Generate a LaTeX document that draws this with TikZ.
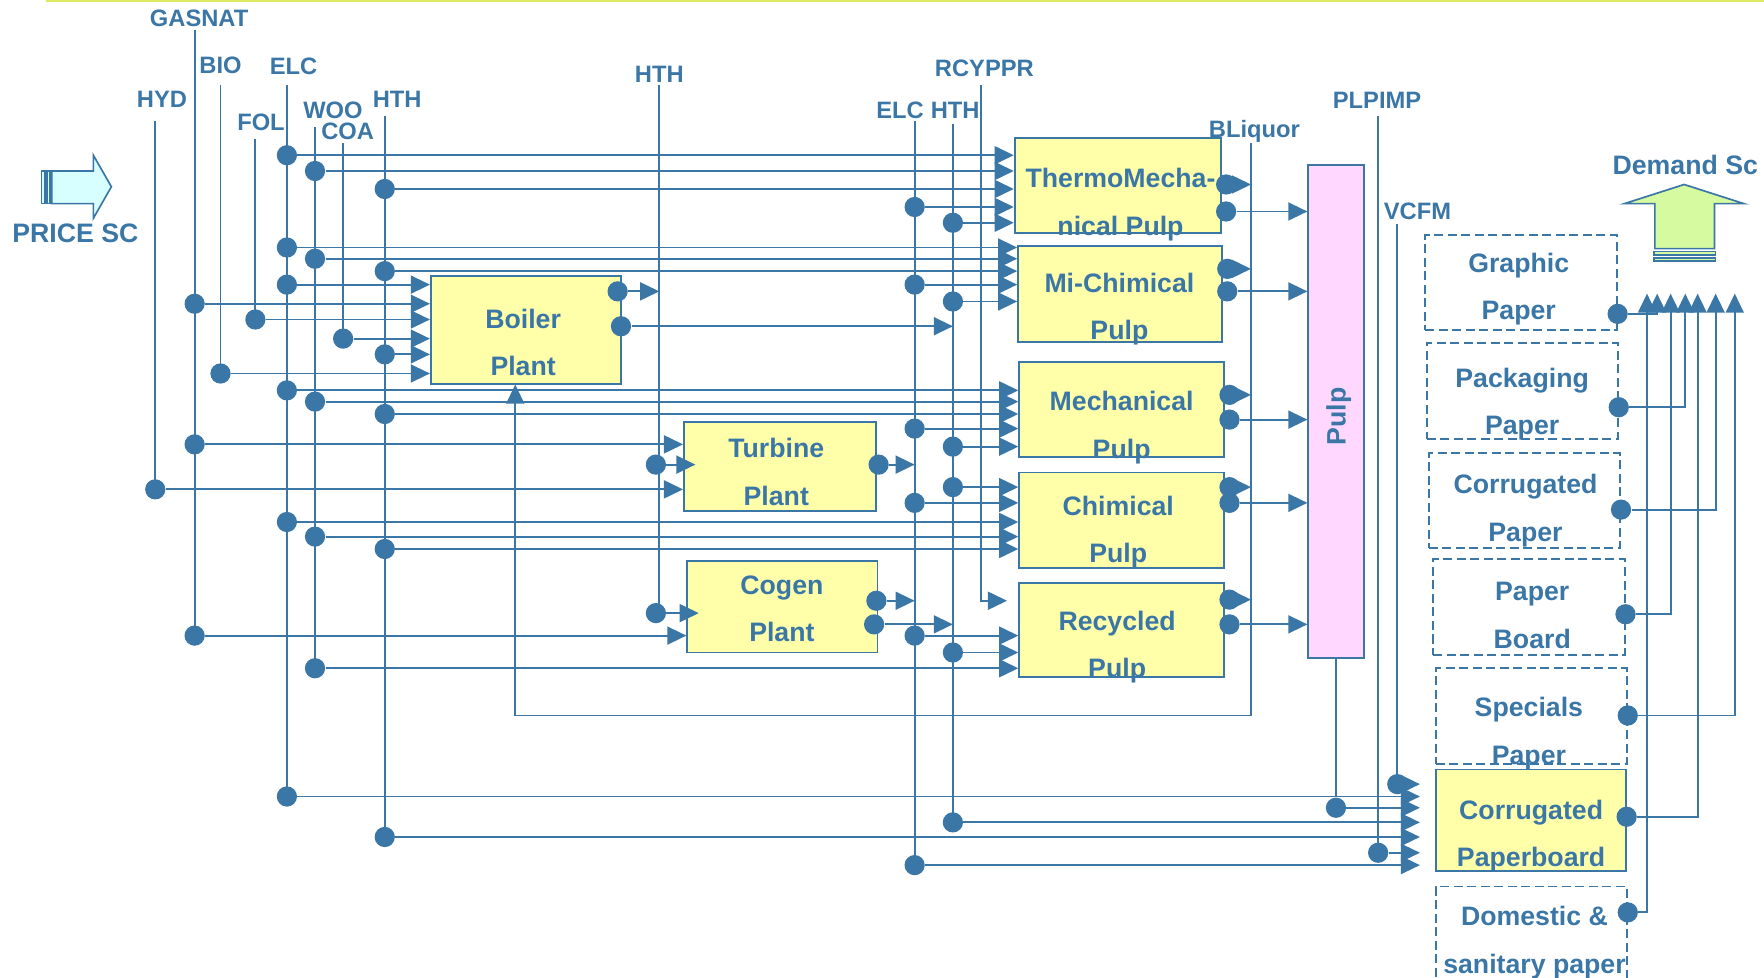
\documentclass[tikz,border=0pt]{standalone}
\usepackage{fontspec}
\setmainfont{Liberation Sans}
\usepackage{xcolor}
\usepackage{tikz}
\usetikzlibrary{arrows.meta}

\definecolor{linkblue}{RGB}{58,118,166}
\definecolor{plantyellow}{RGB}{255,255,170}
\definecolor{pulppink}{RGB}{255,215,255}
\definecolor{pricecyan}{RGB}{215,255,255}
\definecolor{demandgreen}{RGB}{214,250,160}
\definecolor{topline}{RGB}{222,232,96}

\tikzset{
    link/.style={draw=linkblue, line width=0.33mm},
    feed/.style={link, -{Triangle[length=3.4mm, width=3.2mm]}},
    tapdot/.style={circle, fill=linkblue, inner sep=0pt, minimum size=3.6mm},
    lbl/.style={text=linkblue, inner sep=0pt, font=\fontsize{12}{14}\selectfont\bfseries},
    bigl/.style={lbl, font=\fontsize{13.5}{16}\selectfont\bfseries},
    plant/.style={draw=linkblue, line width=0.35mm, fill=plantyellow, inner sep=0pt},
    market/.style={draw=linkblue, line width=0.35mm, inner sep=0pt, dash pattern=on 1.6mm off 0.8mm},
    boxtext/.style={text=linkblue, inner sep=0pt, anchor=north, align=center, font=\fontsize{13.5}{24}\selectfont\bfseries},
    fatarrow/.style={draw=linkblue, line width=0.3mm},
}

\begin{document}
\begin{tikzpicture}[x=0.2mm, y=-0.2mm]
    \useasboundingbox (0,0) rectangle (1568,869);
    \draw[topline, line width=0.7mm] (41,0) -- (1568,0);

    % scenario arrows
    \filldraw[fatarrow, fill=pricecyan] (46,152) -- (83,152) -- (83,138) -- (99,166) -- (83,194) -- (83,181) -- (46,181) -- cycle;
    \filldraw[fatarrow, fill=pricecyan] (37,152) rectangle (40,181);
    \filldraw[fatarrow, fill=pricecyan] (41.5,152) rectangle (44.5,181);
    \node[bigl] (priceL) at (67,207) {PRICE SC};

    \filldraw[fatarrow, fill=demandgreen] (1471,221) -- (1471,181) -- (1444,181) -- (1497,164) -- (1550,181) -- (1524,181) -- (1524,221) -- cycle;
    \filldraw[fatarrow, fill=demandgreen] (1470,223.5) rectangle (1525,226.5);
    \filldraw[fatarrow, fill=demandgreen] (1470,229.5) rectangle (1525,232);
    \node[bigl] (demandL) at (1498,147) {Demand Sc};

    % commodity buses
    \coordinate (hyd) at (138,108);
    \coordinate (gasnat) at (173,27);
    \coordinate (bio) at (196,76);
    \coordinate (fol) at (227,124);
    \coordinate (elc) at (255,76);
    \coordinate (woo) at (280,113);
    \coordinate (coa) at (305,127);
    \coordinate (hth) at (342,103);
    \coordinate (hthm) at (586,76);
    \coordinate (elcm) at (813,108);
    \coordinate (hthr) at (847,110);
    \coordinate (rcyppr) at (872,76);
    \coordinate (bliq) at (1112,127);
    \coordinate (plpimp) at (1225,103);
    \coordinate (vcfm) at (1242,199);

    \node[lbl] (gasnatL) at (177,16) {GASNAT};
    \node[lbl] (bioL) at (196,58) {BIO};
    \node[lbl] (elcL) at (261,59) {ELC};
    \node[lbl] (hydL) at (144,88) {HYD};
    \node[lbl] (folL) at (232,109) {FOL};
    \node[lbl] (wooL) at (296,98) {WOO};
    \node[lbl] (coaL) at (309,117) {COA};
    \node[lbl] (hthL) at (353,88) {HTH};
    \node[lbl] (hthmL) at (586,66) {HTH};
    \node[lbl] (rcypprL) at (875,61) {RCYPPR};
    \node[lbl] (elcmL) at (800,98) {ELC};
    \node[lbl] (hthrL) at (849,98) {HTH};
    \node[lbl] (bliqL) at (1115,117) {BLiquor};
    \node[lbl] (plpimpL) at (1224,89) {PLPIMP};
    \node[lbl] (vcfmL) at (1260,188) {VCFM};

    % plants and markets
    \node[plant, minimum width=33.8mm, minimum height=19.2mm] (boiler) at (467.5,293) {};
    \node[plant, minimum width=34.2mm, minimum height=15.8mm] (turbine) at (693.5,414.5) {};
    \node[plant, minimum width=33.8mm, minimum height=16.2mm] (cogen) at (695.5,539.5) {};
    \node[plant, minimum width=36.6mm, minimum height=16.8mm] (tmp) at (993.5,165) {};
    \node[plant, minimum width=36.2mm, minimum height=17mm] (mic) at (995.5,261.5) {};
    \node[plant, minimum width=36.4mm, minimum height=16.8mm] (mech) at (997,364) {};
    \node[plant, minimum width=36.4mm, minimum height=17mm] (chim) at (997,462.5) {};
    \node[plant, minimum width=36.4mm, minimum height=16.8mm] (recyc) at (997,560) {};
    \node[plant, fill=pulppink, minimum width=9.8mm, minimum height=87.6mm] (pulp) at (1187.5,366) {};

    \node[market, minimum width=34mm, minimum height=16.8mm] (graphic) at (1352,251) {};
    \node[market, minimum width=34mm, minimum height=17mm] (packaging) at (1353,347.5) {};
    \node[market, minimum width=34mm, minimum height=16.8mm] (corrpaper) at (1355,445) {};
    \node[market, minimum width=34mm, minimum height=17mm] (paperboard) at (1359,539.5) {};
    \node[market, minimum width=34mm, minimum height=17mm] (specials) at (1361,636.5) {};
    \node[plant, minimum width=33.8mm, minimum height=18mm] (cpb) at (1360.5,729) {};
    \node[market, minimum width=34mm, minimum height=18.4mm] (domestic) at (1361,834) {};

    % inputs to the plants
    \foreach \bus/\yy/\dest in {
        elc/138/tmp, woo/152/tmp, hth/168/tmp, elcm/184/tmp, hthr/198/tmp,
        elc/220/mic, woo/230/mic, hth/241/mic, elcm/253/mic, hthr/268/mic,
        elc/253/boiler, gasnat/270/boiler, fol/284/boiler, coa/301/boiler, hth/315/boiler, bio/332/boiler,
        elc/347/mech, woo/357/mech, hth/368/mech, elcm/381/mech, hthr/397/mech,
        gasnat/395/turbine, hyd/435/turbine,
        hthr/433/chim, elcm/447/chim, elc/464/chim, woo/477/chim, hth/488/chim,
        gasnat/565/cogen,
        elcm/565/recyc, hthr/580/recyc, woo/594/recyc}
    {
        \node[tapdot] (\bus-\yy) at (\bus |- 0,\yy) {};
        \draw[feed] (\bus-\yy) -- (\dest.west |- 0,\yy);
    }
    \foreach \yy/\dest in {413/turbine, 545/cogen}
    {
        \node[tapdot] (hthm-\yy) at ([xshift=-0.6mm]hthm |- 0,\yy) {};
        \draw[feed, shorten >=-2.2mm] (hthm-\yy) -- (\dest.west |- 0,\yy);
    }
    \foreach \bus/\yy in {vcfm/697, elc/708, hthr/731, hth/744, plpimp/758, elcm/769}
    {
        \node[tapdot] (\bus-\yy) at (\bus |- 0,\yy) {};
        \draw[feed, shorten >=2.6mm] (\bus-\yy) -- (cpb.west |- 0,\yy);
    }
    \foreach \bus/\yy in {hyd/435, gasnat/565, bio/332, fol/284, elc/708, woo/594, coa/301,
        hth/744, hthm/545, elcm/769, hthr/731, plpimp/758, vcfm/697}
        \draw[link] (\bus) -- (\bus |- \bus-\yy);

    \draw[feed, shorten >=2mm] (rcyppr) |- (recyc.west |- 0,534);

    % plant outputs
    \node[tapdot] (boilerH) at (549,259) {};
    \draw[feed] (boilerH) -- (hthm |- boilerH);
    \node[tapdot] (boilerS) at (552,290) {};
    \draw[feed] (boilerS) -- (hthr |- boilerS);
    \node[tapdot] (turbineE) at (781,413) {};
    \draw[feed] (turbineE) -- (elcm |- turbineE);
    \node[tapdot] (cogenE) at (779,534) {};
    \draw[feed] (cogenE) -- (elcm |- cogenE);
    \node[tapdot] (cogenH) at (777,555) {};
    \draw[feed] (cogenH) -- (hthr |- cogenH);

    \foreach \src/\ya/\yb in {tmp/164/188, mic/239/259, mech/351/373, chim/433/447, recyc/533/555}
    {
        \node[tapdot] (\src-bl) at ([xshift=0.8mm]\src.east |- 0,\ya) {};
        \draw[feed] (\src-bl) -- (bliq |- 0,\ya);
        \node[tapdot] (\src-pl) at ([xshift=0.8mm]\src.east |- 0,\yb) {};
        \draw[feed] (\src-pl) -- (pulp.west |- 0,\yb);
    }

    \coordinate (bliqbend) at (458,636);
    \draw[feed] (bliq) |- (bliqbend) -- (boiler.south -| bliqbend);

    \node[tapdot] (pulp-718) at (pulp.south |- 0,718) {};
    \draw[link] (pulp.south) -- (pulp-718);
    \draw[feed, shorten >=2.6mm] (pulp-718) -- (cpb.west |- pulp-718);

    % demand outputs
    \foreach \src/\yy/\xx in {graphic/279/1473, packaging/362/1498, corrpaper/453/1525,
        paperboard/546/1485, specials/636/1542, cpb/726/1509, domestic/811/1464}
    {
        \node[tapdot] (\src-out) at (\src.east |- 0,\yy) {};
        \coordinate (\src-top) at (\xx,261);
        \draw[feed] (\src-out) -| (\src-top);
    }

    % box texts
    \node[boxtext] (boilerT) at (465,274.5) {Boiler\\Plant};
    \node[boxtext] (turbineT) at (690,389.5) {Turbine\\Plant};
    \node[boxtext] (cogenT) at (695,511.5) {Cogen\\Plant};
    \node[boxtext] (tmpT) at (996,149.5) {ThermoMecha-\\nical Pulp};
    \node[boxtext] (micT) at (995,242.5) {Mi-Chimical\\Pulp};
    \node[boxtext] (mechT) at (997,347.5) {Mechanical\\Pulp};
    \node[boxtext] (chimT) at (994,440.5) {Chimical\\Pulp};
    \node[boxtext] (recycT) at (993,542.5) {Recycled\\Pulp};
    \node[boxtext, anchor=center] (pulpT) at (1190,370) {\rotatebox{90}{Pulp}};
    \node[boxtext] (graphicT) at (1350,224.5) {Graphic\\Paper};
    \node[boxtext] (packagingT) at (1353,326.5) {Packaging\\Paper};
    \node[boxtext] (corrpaperT) at (1356,421.5) {Corrugated\\Paper};
    \node[boxtext] (paperboardT) at (1362,517.5) {Paper\\Board};
    \node[boxtext] (specialsT) at (1359,619.5) {Specials\\Paper};
    \node[boxtext] (cpbT) at (1361,710.5) {Corrugated\\Paperboard};
    \node[boxtext] (domesticT) at (1364,805.5) {Domestic \&\\sanitary paper};
\end{tikzpicture}
\end{document}
